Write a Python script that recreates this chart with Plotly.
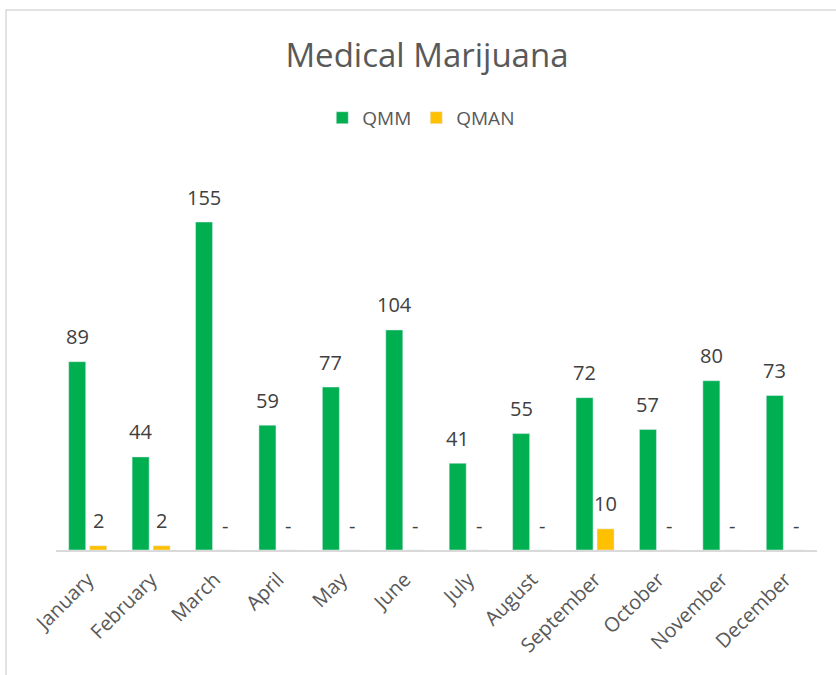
import plotly.graph_objects as go

# monthly counts
months = ["January", "February", "March", "April", "May", "June",
          "July", "August", "September", "October", "November", "December"]
qmm = [89, 44, 155, 59, 77, 104, 41, 55, 72, 57, 80, 73]
qman = [2, 2, 0, 0, 0, 0, 0, 0, 10, 0, 0, 0]

series = [("QMM", qmm, "#00B050", -10.5), ("QMAN", qman, "#FFC000", 10.5)]

fig = go.Figure()
for name, vals, color, shift in series:
    fig.add_trace(go.Bar(x=months, y=vals, name=name, marker_color=color))
    # data labels, Excel accounting style: zero shows as a dash
    for m, v in zip(months, vals):
        fig.add_annotation(
            x=m, y=v, text=str(v) if v else "-",
            showarrow=False, xshift=shift, yshift=25, yanchor="middle",
            font=dict(size=20, color="#404040"),
        )

fig.update_layout(
    width=836,
    height=675,
    margin=dict(l=56, r=19, t=160, b=125, autoexpand=False),
    paper_bgcolor="white",
    plot_bgcolor="white",
    font=dict(family="Open Sans", color="#595959"),
    title=dict(
        text="Medical Marijuana",
        x=427 / 836, xanchor="center", xref="container",
        y=1 - 55 / 675, yanchor="middle",
        font=dict(size=33, color="#595959"),
    ),
    legend=dict(
        orientation="h",
        x=0.48, xanchor="center",
        y=1.108, yanchor="middle",
        font=dict(size=19, color="#595959"),
        itemwidth=30,
    ),
    barmode="group",
    bargap=0.337,
    bargroupgap=0.19,
    showlegend=True,
)
fig.update_xaxes(
    tickangle=-45,
    tickfont=dict(size=20, color="#595959"),
    ticklabelstandoff=8,
    showline=True, linecolor="#d9d9d9", linewidth=2,
    ticks="",
    automargin=False,
)
fig.update_yaxes(
    range=[0, 184.3],
    visible=False,
    showgrid=False,
    zeroline=False,
)

# chart frame (partially cut off at right and bottom)
fig.add_shape(
    type="rect", xref="paper", yref="paper",
    x0=-0.0657, x1=1.2, y0=-0.6, y1=1.3846,
    line=dict(color="#d9d9d9", width=1.5),
    layer="below",
)

# drop the browser's default page margin so the figure sits at 0,0
fig.write_html(
    "out.html",
    config={"displayModeBar": False},
    post_script="document.body.style.margin='0';",
)
